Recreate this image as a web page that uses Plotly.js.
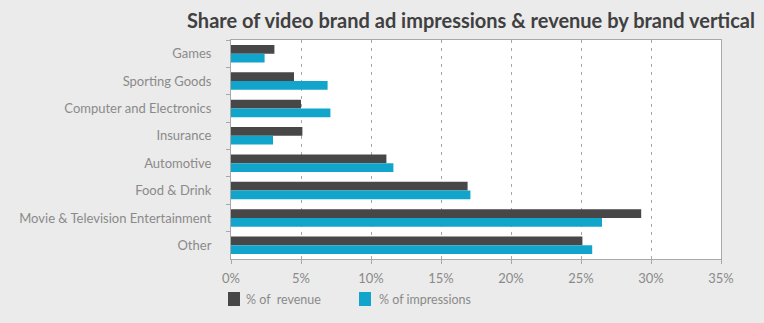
<!DOCTYPE html>
<html><head><meta charset="utf-8">
<script src="https://cdn.plot.ly/plotly-3.0.1.min.js"></script>
<style>html,body{margin:0;padding:0;background:#ebebeb;}#c{width:764px;height:323px;}</style>
</head><body><div id="c"></div>
<script>
const categories = ["Games","Sporting Goods","Computer and Electronics","Insurance","Automotive","Food & Drink","Movie & Television Entertainment","Other"];
const revenue = [3.1, 4.5, 5.0, 5.1, 11.1, 16.9, 29.3, 25.1];
const impressions = [2.4, 6.9, 7.1, 3.0, 11.6, 17.1, 26.5, 25.8];
const xTicks = [0,5,10,15,20,25,30,35];
const xTickText = ["0%","5%","10%","15%","20%","25%","30%","35%"];
const seriesNames = ["% of  revenue", "% of impressions"];
const seriesColors = ["#474747", "#12a5cc"];

const traces = [
  {type:'bar', orientation:'h', name:seriesNames[0], y:categories, x:revenue, marker:{color:seriesColors[0]}},
  {type:'bar', orientation:'h', name:seriesNames[1], y:categories, x:impressions, marker:{color:seriesColors[1]}}
];

const W = 764, H = 323;
const legendItems = [{sx:228, tx:244}, {sx:359, tx:377}];
const shapes = [], annotations = [];
legendItems.forEach((it, i) => {
  shapes.push({type:'rect', xref:'paper', yref:'paper', layer:'above',
    x0:(it.sx-231)/490, x1:(it.sx+12-231)/490, y0:(259-306)/219, y1:(259-292)/219,
    fillcolor:seriesColors[i], line:{width:0}});
  annotations.push({xref:'paper', yref:'paper', x:(it.tx-231)/490, y:(259-299)/219, xanchor:'left', yanchor:'middle',
    text:seriesNames[i], showarrow:false, font:{size:12.5, color:'#8a8a8a'}});
});

const layout = {
  width:W, height:H,
  paper_bgcolor:'#ebebeb', plot_bgcolor:'#ffffff',
  margin:{l:231, r:43, t:40, b:64},
  font:{family:'Lato, sans-serif', color:'#8a8a8a', size:12},
  title:{text:'<b>Share of video brand ad impressions & revenue by brand vertical</b>', font:{family:'Lato, sans-serif', size:20, color:'#404040'}, xref:'container', x:0.6165, xanchor:'center', y:0.935, yanchor:'middle'},
  barmode:'group', bargap:0.36, bargroupgap:0,
  xaxis:{range:[0,35], tickvals:xTicks, ticktext:xTickText, showgrid:true, gridcolor:'#a8a8a8', griddash:'3px,5px', gridwidth:1,
         showline:true, linecolor:'#a8a8a8', mirror:true, ticks:'outside', ticklen:4, tickcolor:'#a8a8a8', ticklabelstandoff:3, zeroline:false,
         tickfont:{size:13, color:'#8a8a8a'}},
  yaxis:{type:'category', autorange:'reversed', showline:true, linecolor:'#a8a8a8', mirror:true, ticks:'outside', ticklen:4, tickcolor:'#a8a8a8',
         tickson:'boundaries', ticklabelstandoff:16, showgrid:false, tickfont:{size:13, color:'#8a8a8a'}},
  showlegend:false,
  shapes:shapes, annotations:annotations
};
Plotly.newPlot('c', traces, layout, {displayModeBar:false, staticPlot:true});
</script></body></html>
